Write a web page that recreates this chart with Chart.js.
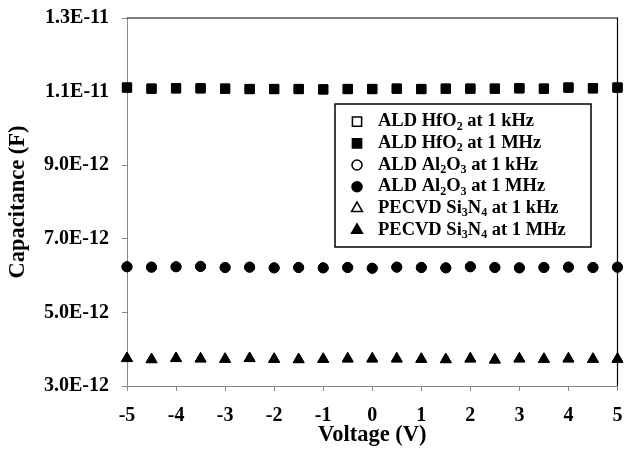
<!DOCTYPE html>
<html>
<head>
<meta charset="utf-8">
<script src="https://cdn.jsdelivr.net/npm/chart.js@4.4.1/dist/chart.umd.min.js"></script>
<style>
  html, body { margin: 0; padding: 0; background: #fff; }
</style>
</head>
<body>
<canvas id="capChart" width="625" height="453"></canvas>
<script>
// Bias voltage sweep (V)
const voltages = [-5, -4.5, -4, -3.5, -3, -2.5, -2, -1.5, -1, -0.5, 0, 0.5, 1, 1.5, 2, 2.5, 3, 3.5, 4, 4.5, 5];

// Capacitance (F) - kHz markers sit right under the MHz ones
const hfo2KHz = [1.111e-11, 1.108e-11, 1.109e-11, 1.109e-11, 1.108e-11, 1.107e-11, 1.107e-11, 1.107e-11, 1.106e-11, 1.107e-11, 1.107e-11, 1.108e-11, 1.107e-11, 1.108e-11, 1.108e-11, 1.108e-11, 1.109e-11, 1.108e-11, 1.111e-11, 1.109e-11, 1.111e-11];
const hfo2MHz = [1.111e-11, 1.108e-11, 1.109e-11, 1.109e-11, 1.108e-11, 1.107e-11, 1.107e-11, 1.107e-11, 1.106e-11, 1.107e-11, 1.107e-11, 1.108e-11, 1.107e-11, 1.108e-11, 1.108e-11, 1.108e-11, 1.109e-11, 1.108e-11, 1.111e-11, 1.109e-11, 1.111e-11];
const al2o3KHz = [6.24e-12, 6.23e-12, 6.24e-12, 6.25e-12, 6.22e-12, 6.23e-12, 6.21e-12, 6.22e-12, 6.21e-12, 6.22e-12, 6.20e-12, 6.23e-12, 6.22e-12, 6.21e-12, 6.24e-12, 6.22e-12, 6.21e-12, 6.22e-12, 6.23e-12, 6.22e-12, 6.23e-12];
const al2o3MHz = [6.24e-12, 6.23e-12, 6.24e-12, 6.25e-12, 6.22e-12, 6.23e-12, 6.21e-12, 6.22e-12, 6.21e-12, 6.22e-12, 6.20e-12, 6.23e-12, 6.22e-12, 6.21e-12, 6.24e-12, 6.22e-12, 6.21e-12, 6.22e-12, 6.23e-12, 6.22e-12, 6.23e-12];
const si3n4KHz = [3.75e-12, 3.72e-12, 3.75e-12, 3.74e-12, 3.73e-12, 3.75e-12, 3.73e-12, 3.72e-12, 3.73e-12, 3.74e-12, 3.74e-12, 3.74e-12, 3.73e-12, 3.72e-12, 3.74e-12, 3.71e-12, 3.74e-12, 3.73e-12, 3.74e-12, 3.73e-12, 3.73e-12];
const si3n4MHz = [3.75e-12, 3.72e-12, 3.75e-12, 3.74e-12, 3.73e-12, 3.75e-12, 3.73e-12, 3.72e-12, 3.73e-12, 3.74e-12, 3.74e-12, 3.74e-12, 3.73e-12, 3.72e-12, 3.74e-12, 3.71e-12, 3.74e-12, 3.73e-12, 3.74e-12, 3.73e-12, 3.73e-12];

// Legend labels, text between ~ is a subscript
const seriesLabels = [
  'ALD HfO~2~ at 1 kHz',
  'ALD HfO~2~ at 1 MHz',
  'ALD Al~2~O~3~ at 1 kHz',
  'ALD Al~2~O~3~ at 1 MHz',
  'PECVD Si~3~N~4~ at 1 kHz',
  'PECVD Si~3~N~4~ at 1 MHz'
];

const xTitle = 'Voltage (V)';
const yTitle = 'Capacitance (F)';

const serif = '"Liberation Serif", "Times New Roman", serif';

function toPoints(ys) {
  return voltages.map((v, i) => ({ x: v, y: ys[i] }));
}

function makeSet(label, ys, style, radius, filled) {
  return {
    label: label.replace(/~/g, ''),
    rawLabel: label,
    data: toPoints(ys),
    pointStyle: style,
    pointRadius: radius,
    pointHoverRadius: radius,
    pointBackgroundColor: filled ? '#000' : '#fff',
    pointBorderColor: '#000',
    pointBorderWidth: 1,
    showLine: false,
    clip: false,
    order: filled ? 0 : 1
  };
}

// Draws the boxed legend inside the plot area, with real subscripts
const boxedLegend = {
  id: 'boxedLegend',
  afterDraw(chart) {
    const ctx = chart.ctx;
    const ca = chart.chartArea;
    const boxX = ca.left + 208, boxY = ca.top + 86, boxW = 256, boxH = 143;
    ctx.save();
    ctx.strokeStyle = '#000';
    ctx.lineWidth = 1.5;
    ctx.strokeRect(boxX, boxY, boxW, boxH);
    chart.data.datasets.forEach((ds, i) => {
      const y = boxY + 17.6 + i * 21.7;
      ctx.fillStyle = ds.pointBackgroundColor;
      ctx.strokeStyle = '#000';
      ctx.lineWidth = 1.5;
      Chart.helpers.drawPoint(ctx, { pointStyle: ds.pointStyle, radius: ds.pointRadius, borderWidth: 1.5, rotation: 0 }, boxX + 22, y);
      let x = boxX + 43;
      ctx.fillStyle = '#000';
      ctx.textBaseline = 'middle';
      ctx.textAlign = 'left';
      ds.rawLabel.split('~').forEach((part, k) => {
        const sub = k % 2 === 1;
        ctx.font = 'bold ' + (sub ? 12 : 18.5) + 'px ' + serif;
        ctx.fillText(part, x, sub ? y + 5 : y);
        x += ctx.measureText(part).width;
      });
    });
    ctx.restore();
  }
};

// Excel-style plot frame: black top and right edges
const plotFrame = {
  id: 'plotFrame',
  beforeDatasetsDraw(chart) {
    const ctx = chart.ctx;
    const ca = chart.chartArea;
    ctx.save();
    ctx.strokeStyle = '#000';
    ctx.lineWidth = 1.2;
    ctx.beginPath();
    ctx.moveTo(ca.left, ca.top);
    ctx.lineTo(ca.right, ca.top);
    ctx.lineTo(ca.right, ca.bottom);
    ctx.stroke();
    ctx.restore();
  }
};

const ctx = document.getElementById('capChart').getContext('2d');
const chart = new Chart(ctx, {
  type: 'scatter',
  data: {
    datasets: [
      makeSet(seriesLabels[0], hfo2KHz, 'rect', 6.5, false),
      makeSet(seriesLabels[1], hfo2MHz, 'rect', 6.5, true),
      makeSet(seriesLabels[2], al2o3KHz, 'circle', 5, false),
      makeSet(seriesLabels[3], al2o3MHz, 'circle', 5, true),
      makeSet(seriesLabels[4], si3n4KHz, 'triangle', 6.3, false),
      makeSet(seriesLabels[5], si3n4MHz, 'triangle', 6.3, true)
    ]
  },
  options: {
    responsive: false,
    animation: false,
    layout: { padding: { top: 18, right: 5, bottom: 0, left: 0 } },
    plugins: {
      legend: { display: false },
      tooltip: { enabled: false }
    },
    scales: {
      x: {
        type: 'linear',
        min: -5,
        max: 5,
        afterFit(scale) {
          scale.height = 67;
          scale.paddingLeft = 0;
          scale.paddingRight = 0;
          if (scale._margins) {
            scale._margins.left = 0;
            scale._margins.right = 0;
          }
        },
        ticks: {
          stepSize: 1,
          color: '#000',
          padding: 13,
          font: { family: serif, size: 20, weight: 'bold' }
        },
        grid: { drawOnChartArea: false, tickLength: 5, color: '#888' },
        border: { color: '#888', width: 1 },
        title: {
          display: true,
          text: xTitle,
          color: '#000',
          padding: { top: 0, bottom: 4 },
          font: { family: serif, size: 22.5, weight: 'bold' }
        }
      },
      y: {
        type: 'linear',
        min: 3e-12,
        max: 1.3e-11,
        afterFit(scale) {
          scale.width = 127;
          scale.paddingTop = 0;
          scale.paddingBottom = 0;
        },
        ticks: {
          stepSize: 2e-12,
          color: '#000',
          padding: 13,
          font: { family: serif, size: 20, weight: 'bold' },
          callback: (v) => v.toExponential(1).toUpperCase()
        },
        grid: { drawOnChartArea: false, tickLength: 5, color: '#888' },
        border: { color: '#888', width: 1 },
        title: {
          display: true,
          text: yTitle,
          color: '#000',
          padding: { top: 5, bottom: 0 },
          font: { family: serif, size: 22.5, weight: 'bold' }
        }
      }
    }
  },
  plugins: [plotFrame, boxedLegend]
});
</script>
</body>
</html>
